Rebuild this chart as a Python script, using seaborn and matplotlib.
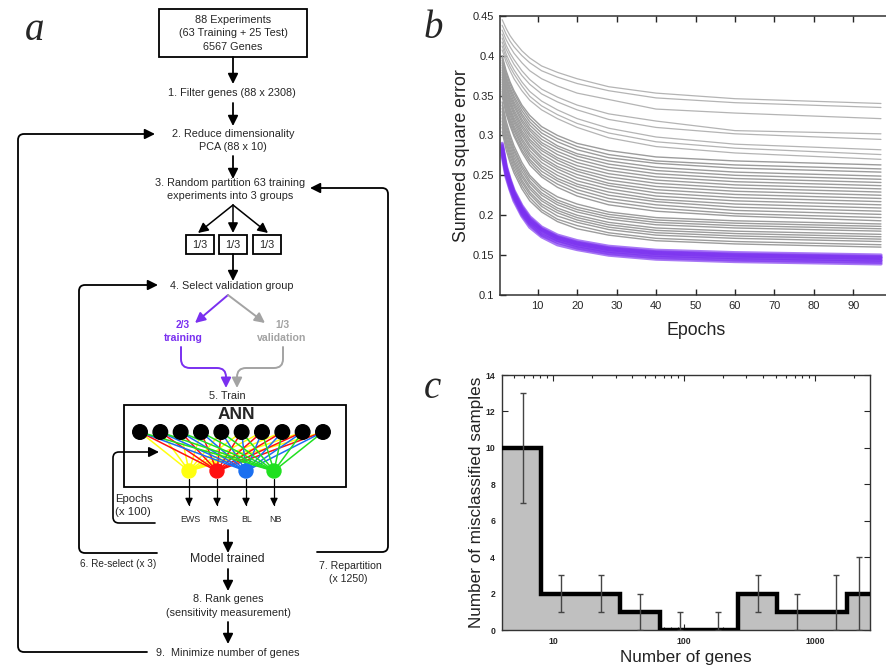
import numpy as np
import pandas as pd
import matplotlib
matplotlib.use("Agg")
from matplotlib import pyplot as plt
from matplotlib.path import Path
from matplotlib.patches import FancyArrowPatch, Rectangle, Circle
import seaborn as sns

# ---- panel b: summed square error per epoch ----
epochs = [1, 2, 3, 4, 6, 8, 11, 15, 20, 28, 40, 60, 97]

upper_curves = [
    [0.445, 0.434, 0.425, 0.418, 0.406, 0.397, 0.387, 0.379, 0.371, 0.361, 0.353, 0.346, 0.340],
    [0.438, 0.427, 0.418, 0.411, 0.400, 0.391, 0.381, 0.373, 0.365, 0.356, 0.347, 0.341, 0.335],
    [0.432, 0.420, 0.411, 0.403, 0.391, 0.381, 0.371, 0.362, 0.353, 0.345, 0.333, 0.328, 0.321],
    [0.427, 0.413, 0.403, 0.395, 0.381, 0.370, 0.358, 0.348, 0.338, 0.327, 0.318, 0.306, 0.302],
    [0.422, 0.408, 0.398, 0.389, 0.375, 0.364, 0.352, 0.342, 0.332, 0.320, 0.310, 0.302, 0.295],
    [0.417, 0.402, 0.391, 0.382, 0.367, 0.355, 0.343, 0.332, 0.321, 0.309, 0.298, 0.289, 0.282],
    [0.412, 0.397, 0.386, 0.377, 0.362, 0.349, 0.337, 0.326, 0.315, 0.303, 0.292, 0.284, 0.276],
    [0.407, 0.392, 0.381, 0.371, 0.356, 0.344, 0.332, 0.321, 0.310, 0.297, 0.286, 0.278, 0.270],
]
middle_curves = [
    [0.400, 0.381, 0.367, 0.356, 0.338, 0.325, 0.311, 0.300, 0.290, 0.281, 0.273, 0.268, 0.263],
    [0.397, 0.378, 0.364, 0.353, 0.335, 0.321, 0.307, 0.296, 0.286, 0.276, 0.268, 0.263, 0.258],
    [0.394, 0.374, 0.360, 0.349, 0.331, 0.317, 0.303, 0.292, 0.282, 0.272, 0.265, 0.259, 0.254],
    [0.391, 0.371, 0.357, 0.346, 0.327, 0.313, 0.299, 0.287, 0.277, 0.268, 0.260, 0.254, 0.249],
    [0.388, 0.368, 0.354, 0.342, 0.324, 0.309, 0.295, 0.284, 0.274, 0.264, 0.256, 0.250, 0.245],
    [0.385, 0.365, 0.350, 0.339, 0.320, 0.306, 0.291, 0.280, 0.270, 0.260, 0.252, 0.246, 0.241],
    [0.382, 0.362, 0.347, 0.336, 0.317, 0.302, 0.288, 0.276, 0.266, 0.256, 0.248, 0.242, 0.237],
    [0.379, 0.359, 0.344, 0.332, 0.313, 0.299, 0.284, 0.272, 0.262, 0.252, 0.244, 0.238, 0.233],
    [0.376, 0.355, 0.341, 0.329, 0.310, 0.295, 0.281, 0.269, 0.258, 0.248, 0.240, 0.234, 0.229],
    [0.373, 0.352, 0.338, 0.326, 0.306, 0.292, 0.277, 0.265, 0.255, 0.244, 0.236, 0.230, 0.225],
    [0.370, 0.349, 0.334, 0.322, 0.303, 0.288, 0.273, 0.261, 0.251, 0.240, 0.232, 0.226, 0.221],
    [0.367, 0.346, 0.331, 0.319, 0.300, 0.285, 0.270, 0.258, 0.247, 0.237, 0.228, 0.222, 0.217],
    [0.364, 0.343, 0.328, 0.316, 0.296, 0.281, 0.266, 0.254, 0.243, 0.233, 0.224, 0.218, 0.213],
    [0.361, 0.340, 0.325, 0.312, 0.293, 0.277, 0.262, 0.250, 0.239, 0.229, 0.220, 0.214, 0.209],
    [0.358, 0.337, 0.321, 0.309, 0.289, 0.274, 0.259, 0.246, 0.236, 0.225, 0.217, 0.210, 0.205],
    [0.355, 0.333, 0.318, 0.306, 0.286, 0.270, 0.255, 0.243, 0.232, 0.221, 0.213, 0.206, 0.201],
    [0.352, 0.330, 0.315, 0.302, 0.282, 0.267, 0.251, 0.239, 0.228, 0.217, 0.209, 0.202, 0.197],
    [0.349, 0.327, 0.312, 0.299, 0.279, 0.263, 0.248, 0.235, 0.224, 0.213, 0.205, 0.199, 0.193],
]
lower_curves = [
    [0.342, 0.318, 0.301, 0.287, 0.266, 0.250, 0.235, 0.223, 0.214, 0.204, 0.197, 0.193, 0.189],
    [0.338, 0.314, 0.297, 0.283, 0.262, 0.247, 0.232, 0.219, 0.210, 0.201, 0.194, 0.190, 0.186],
    [0.334, 0.310, 0.293, 0.280, 0.259, 0.243, 0.228, 0.216, 0.207, 0.198, 0.191, 0.187, 0.183],
    [0.330, 0.306, 0.290, 0.276, 0.255, 0.240, 0.225, 0.213, 0.204, 0.195, 0.188, 0.184, 0.180],
    [0.326, 0.302, 0.286, 0.272, 0.251, 0.236, 0.221, 0.209, 0.200, 0.191, 0.184, 0.180, 0.176],
    [0.322, 0.298, 0.282, 0.268, 0.248, 0.233, 0.218, 0.206, 0.197, 0.188, 0.181, 0.177, 0.173],
    [0.318, 0.294, 0.278, 0.265, 0.244, 0.229, 0.214, 0.203, 0.194, 0.185, 0.178, 0.174, 0.170],
    [0.314, 0.291, 0.274, 0.261, 0.241, 0.226, 0.211, 0.199, 0.191, 0.182, 0.175, 0.171, 0.167],
    [0.310, 0.287, 0.270, 0.257, 0.237, 0.222, 0.207, 0.195, 0.187, 0.178, 0.171, 0.167, 0.163],
    [0.305, 0.282, 0.266, 0.253, 0.233, 0.218, 0.204, 0.192, 0.183, 0.175, 0.168, 0.164, 0.160],
]
best_curves = [
    [0.290, 0.262, 0.245, 0.231, 0.212, 0.198, 0.185, 0.175, 0.168, 0.161, 0.156, 0.153, 0.150],
    [0.288, 0.260, 0.243, 0.229, 0.210, 0.196, 0.183, 0.173, 0.166, 0.159, 0.154, 0.151, 0.148],
    [0.286, 0.258, 0.242, 0.228, 0.208, 0.194, 0.182, 0.172, 0.165, 0.158, 0.153, 0.150, 0.147],
    [0.284, 0.256, 0.240, 0.226, 0.207, 0.193, 0.181, 0.171, 0.164, 0.157, 0.152, 0.149, 0.146],
    [0.282, 0.254, 0.238, 0.224, 0.205, 0.191, 0.179, 0.169, 0.162, 0.155, 0.150, 0.147, 0.144],
    [0.280, 0.253, 0.236, 0.223, 0.203, 0.190, 0.177, 0.168, 0.161, 0.154, 0.149, 0.146, 0.143],
    [0.278, 0.251, 0.234, 0.221, 0.201, 0.188, 0.175, 0.166, 0.159, 0.152, 0.147, 0.144, 0.141],
    [0.275, 0.248, 0.232, 0.218, 0.199, 0.185, 0.173, 0.163, 0.157, 0.150, 0.145, 0.142, 0.139],
]
b_xticks = [10, 20, 30, 40, 50, 60, 70, 80, 90]
b_yticks = [0.1, 0.15, 0.2, 0.25, 0.3, 0.35, 0.4, 0.45]
b_yticklabels = ["0.1", "0.15", "0.2", "0.25", "0.3", "0.35", "0.4", "0.45"]

# ---- panel c: misclassified samples vs number of genes ----
gene_bin_edges = [4.08, 8.1, 16.5, 32.4, 65.6, 130, 260, 516, 1030, 1765, 2630]
misclassified = [10, 2, 2, 1, 0, 0, 2, 1, 1, 2]
err_genes = [5.9, 11.6, 23.2, 46, 93, 182, 365, 725, 1440, 2170]
err_low = [7, 1, 1, 0, 0, 0, 1, 0, 0, 0]
err_high = [13, 3, 3, 2, 1, 1, 3, 2, 3, 4]
c_yticks = [0, 2, 4, 6, 8, 10, 12, 14]


def to_long(curves, offset=0):
    rows = []
    for i, curve in enumerate(curves):
        for e, v in zip(epochs, curve):
            rows.append({"curve": i + offset, "epoch": e, "sse": v})
    return pd.DataFrame(rows)


def rounded_path(points, r=6):
    verts = [points[0]]
    codes = [Path.MOVETO]
    for i in range(1, len(points) - 1):
        p0, p1, p2 = (np.array(points[k], dtype=float) for k in (i - 1, i, i + 1))
        d1 = (p1 - p0) / np.linalg.norm(p1 - p0)
        d2 = (p2 - p1) / np.linalg.norm(p2 - p1)
        verts += [tuple(p1 - d1 * r), tuple(p1), tuple(p1 + d2 * r)]
        codes += [Path.LINETO, Path.CURVE3, Path.CURVE3]
    verts.append(points[-1])
    codes.append(Path.LINETO)
    return Path(verts, codes)


def arrow(ax, points, color="black", lw=1.3, head=True, r=6, hl=0.6, hw=0.3):
    style = f"-|>,head_length={hl},head_width={hw}" if head else "-"
    p = FancyArrowPatch(path=rounded_path(points, r), arrowstyle=style,
                        mutation_scale=10, lw=lw, color=color)
    ax.add_patch(p)


sns.set_style("ticks")
plt.rcParams["font.family"] = ["Liberation Sans", "DejaVu Sans"]

W, H = 887, 667
fig = plt.figure(figsize=(8.87, 6.67), dpi=100)

# ================= panel a: flow chart =================
ax_a = fig.add_axes([0, 0, 0.5, 1])
ax_a.set_xlim(0, W / 2)
ax_a.set_ylim(H, 0)
ax_a.axis("off")

fs = 7.8
def txt(x, y, s, size=fs, **kw):
    kw.setdefault("ha", "center")
    kw.setdefault("va", "center")
    ax_a.text(x, y, s, fontsize=size, **kw)

ax_a.add_patch(Rectangle((159, 9), 148, 48, fill=False, lw=1.3, ec="black"))
txt(233, 20, "88 Experiments")
txt(233, 33, "(63 Training + 25 Test)")
txt(233, 47, "6567 Genes")
arrow(ax_a, [(233, 57), (233, 84)])
txt(232, 93, "1. Filter genes (88 x 2308)")
arrow(ax_a, [(233, 103), (233, 126)])
txt(233, 134, "2. Reduce dimensionality")
txt(233, 147, "PCA (88 x 10)")
arrow(ax_a, [(233, 156), (233, 179)])
txt(230, 183, "3. Random partition 63 training")
txt(230, 196, "experiments into 3 groups")
for bx in (198, 233, 268):
    arrow(ax_a, [(233, 205), (bx, 233)], lw=1.1)
for x0 in (186, 219, 253):
    ax_a.add_patch(Rectangle((x0, 235), 28, 19, fill=False, lw=1.3, ec="black"))
    txt(x0 + 14, 244.5, "1/3")
arrow(ax_a, [(233, 254), (233, 281)])
txt(232, 286, "4. Select validation group")

purple = "#7a30f0"
grey = "#a3a3a3"
arrow(ax_a, [(228, 295), (195, 323)], color=purple, lw=1.4)
arrow(ax_a, [(228, 295), (265, 323)], color=grey, lw=1.4)
txt(183, 325, "2/3", color=purple, weight="bold", size=7.3)
txt(183, 338, "training", color=purple, weight="bold", size=7.6)
txt(282, 325, "1/3", color=grey, weight="bold", size=7.3)
txt(282, 338, "validation", color=grey, weight="bold", size=7.6)
arrow(ax_a, [(181, 347), (181, 368), (226, 368), (226, 388)], color=purple, lw=1.4, r=9)
arrow(ax_a, [(283, 347), (283, 368), (237, 368), (237, 388)], color=grey, lw=1.4, r=9)
txt(227, 396, "5. Train")

ax_a.add_patch(Rectangle((124, 405), 222, 82, fill=False, lw=1.3, ec="black"))
txt(236, 419, "ANN", size=12.5, weight="bold", va="baseline")
in_x = [140 + 20.33 * i for i in range(10)]
out_x = [189, 217, 246, 274]
out_col = ["#ffff10", "#ff1010", "#1a6ff0", "#20e020"]
for j, (ox, oc) in enumerate(zip(out_x, out_col)):
    for ix in in_x:
        ax_a.plot([ix, ox], [432, 471], color=oc, lw=1.1, zorder=2)
for ix in in_x:
    ax_a.add_patch(Circle((ix, 432), 7.3, color="black", zorder=3))
for ox, oc in zip(out_x, out_col):
    ax_a.add_patch(Circle((ox, 471), 7.0, color=oc, zorder=3))
for ox, lab in zip(out_x, ["EWS", "RMS", "BL", "NB"]):
    arrow(ax_a, [(ox, 479), (ox, 506)], lw=0.9, hl=0.45, hw=0.22)
    txt(ox + 1, 520, lab, size=6.4)

arrow(ax_a, [(155, 523), (113, 523), (113, 452), (159, 452)], lw=1.2)
txt(115, 499, "Epochs", size=8.2, ha="left")
txt(115, 512, "(x 100)", size=8.2, ha="left")

arrow(ax_a, [(157, 553), (79, 553), (79, 285), (158, 285)], lw=1.3)
txt(118, 564, "6. Re-select (x 3)", size=7.2)
arrow(ax_a, [(317, 552), (388, 552), (388, 188), (310, 188)], lw=1.3)
txt(350, 566, "7. Repartition", size=7.6)
txt(348, 579, "(x 1250)", size=7.6)

arrow(ax_a, [(228, 530), (228, 553)])
txt(227, 559, "Model trained", size=8.8)
arrow(ax_a, [(228, 569), (228, 591)])
txt(228, 599, "8. Rank genes")
txt(228, 613, "(sensitivity measurement)")
arrow(ax_a, [(228, 622), (228, 644)])
txt(228, 653, "9.  Minimize number of genes")
arrow(ax_a, [(147, 652), (18, 652), (18, 134), (155, 134)], lw=1.3)

# panel letters
for lx, ly, letter in [(35, 30, "a"), (433, 28, "b"), (432, 388, "c")]:
    fig.text(lx / W, 1 - ly / H, letter, fontsize=28, style="italic",
             family="Liberation Serif", ha="center", va="center")

# ================= panel b: training curves =================
# right spine sits just past the picture edge, as in the reference
ax_b = fig.add_axes([500 / W, 1 - 295 / H, 392 / W, 279.3 / H])
sns.lineplot(data=to_long(upper_curves), x="epoch", y="sse", units="curve",
             estimator=None, color="#b4b4b4", lw=0.9, ax=ax_b, legend=False)
sns.lineplot(data=to_long(middle_curves + lower_curves), x="epoch", y="sse",
             units="curve", estimator=None, color="#9c9c9c", lw=1.0, ax=ax_b,
             legend=False)
sns.lineplot(data=to_long(best_curves), x="epoch", y="sse", units="curve",
             estimator=None, color=purple, lw=2.4, alpha=0.65, ax=ax_b, legend=False)
ax_b.set_xlim(0.45, 99.8)
ax_b.set_ylim(0.1, 0.45)
ax_b.set_xticks(b_xticks)
ax_b.set_xticklabels([str(t) for t in b_xticks])
ax_b.set_yticks(b_yticks)
ax_b.set_yticklabels(b_yticklabels)
ax_b.tick_params(direction="in", top=True, right=True, length=4, width=1,
                 labelsize=8, pad=4)
ax_b.set_xlabel("Epochs", fontsize=12.8, color="#222222", labelpad=8)
ax_b.set_ylabel("Summed square error", fontsize=12.8, color="#222222", labelpad=2)
for s in ax_b.spines.values():
    s.set_linewidth(1.1)
    s.set_color("#333333")

# ================= panel c: misclassification =================
ax_c = fig.add_axes([502 / W, 1 - 630 / H, 368 / W, 255 / H])
ax_c.stairs(misclassified, gene_bin_edges, fill=True, color="#c0c0c0", zorder=1)
ax_c.stairs(misclassified, gene_bin_edges, baseline=None, color="black", lw=3.2, zorder=3)
ax_c.errorbar(err_genes, err_low,
              yerr=[np.zeros(len(err_low)), np.array(err_high) - np.array(err_low)],
              fmt="none", ecolor="#444444", elinewidth=1.0, capsize=2, capthick=1, zorder=4)
ax_c.set_xscale("log")
ax_c.set_xlim(gene_bin_edges[0], gene_bin_edges[-1])
ax_c.set_ylim(0, 14)
ax_c.set_xticks([10, 100, 1000])
ax_c.set_xticklabels(["10", "100", "1000"])
ax_c.set_yticks(c_yticks)
ax_c.set_yticklabels([str(t) for t in c_yticks])
ax_c.tick_params(which="both", direction="in", top=True, right=True, width=0.8,
                 labelsize=6.2, pad=5)
ax_c.tick_params(which="major", length=4)
ax_c.tick_params(which="minor", length=2)
for lab in ax_c.get_xticklabels() + ax_c.get_yticklabels():
    lab.set_fontweight("bold")
ax_c.set_xlabel("Number of genes", fontsize=12.3, color="#222222", labelpad=3)
ax_c.set_ylabel("Number of misclassified samples", fontsize=12.3, color="#222222", labelpad=1)
for s in ax_c.spines.values():
    s.set_linewidth(1.0)
    s.set_color("#333333")

fig.savefig("out.png", dpi=100)
